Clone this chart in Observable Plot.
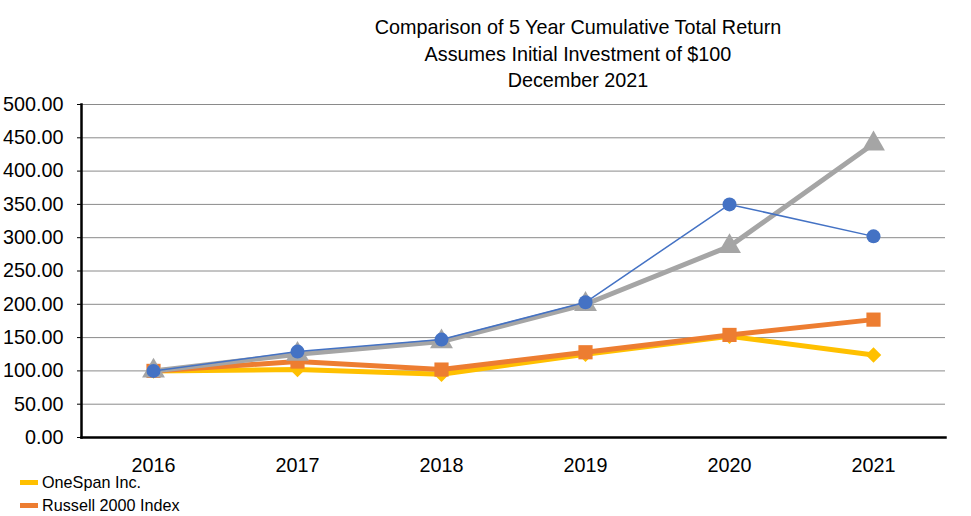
<!DOCTYPE html>
<html>
<head>
<meta charset="utf-8">
<script src="https://cdn.jsdelivr.net/npm/d3@7"></script>
<script src="https://cdn.jsdelivr.net/npm/@observablehq/plot@0.6"></script>
<style>
  html, body { margin: 0; padding: 0; background: #fff; }
  body { width: 971px; height: 516px; position: relative; overflow: hidden; font-family: "Liberation Sans", Arial, sans-serif; }
  #title { position: absolute; left: 328px; width: 500px; top: 14px; text-align: center; font-size: 19.8px; line-height: 26.5px; color: #000; }
  #chart { position: absolute; left: 0; top: 0; }
  #legend { position: absolute; left: 20px; top: 471px; font-size: 16.2px; color: #000; }
  .item { display: flex; align-items: center; height: 23px; }
  .sw { width: 18px; height: 5px; margin-right: 4px; }
</style>
</head>
<body>
<div id="chart"></div>
<div id="title">Comparison of 5 Year Cumulative Total Return<br>Assumes Initial Investment of $100<br>December 2021</div>
<div id="legend"></div>
<script>
const years = ["2016", "2017", "2018", "2019", "2020", "2021"];
const yTicks = [0, 50, 100, 150, 200, 250, 300, 350, 400, 450, 500];

const seriesNames = ["OneSpan Inc.", "Russell 2000 Index", "Series 3", "Series 4"];
const oneSpan   = [100, 102, 95, 125, 152, 124];
const russell   = [100, 114, 102, 128, 154, 177];
const series3   = [100, 125, 144, 200, 287, 441];
const series4   = [100, 129, 147, 203, 350, 302];

const colors  = ["#FFC000", "#ED7D31", "#A5A5A5", "#4472C4"];
const symbols = ["diamond2", "square", "triangle", "circle"];
const widths  = [5, 5, 5, 1.5];
const radii   = [7, 8, 8.5, 7];
const legendShown = [0, 1];

const allValues = [oneSpan, russell, series3, series4];
const rows = [];
allValues.forEach((vals, i) => vals.forEach((v, j) => rows.push({series: seriesNames[i], idx: i, year: years[j], value: v})));

const plotMarks = [
  Plot.ruleY(yTicks.filter(t => t > 0), {stroke: "#8a8a8a", strokeWidth: 1}),
];
allValues.forEach((vals, i) => {
  const data = rows.filter(r => r.idx === i);
  plotMarks.push(Plot.line(data, {x: "year", y: "value", stroke: colors[i], strokeWidth: widths[i]}));
  plotMarks.push(Plot.dot(data, {x: "year", y: "value", fill: colors[i], symbol: () => symbols[i], r: radii[i], stroke: "none"}));
});
plotMarks.push(Plot.frame({anchor: "left", stroke: "#000", strokeWidth: 2.5}));
plotMarks.push(Plot.frame({anchor: "bottom", stroke: "#000", strokeWidth: 2.5}));
plotMarks.push(Plot.axisY({ticks: yTicks, tickFormat: d3.format(".2f"), tickSize: 4, tickPadding: 14, fontSize: 19.8, color: "#000"}));
plotMarks.push(Plot.axisX({tickSize: 0, tickPadding: 20, fontSize: 19.8, color: "#000"}));

const chart = Plot.plot({
  width: 971,
  height: 516,
  marginLeft: 81,
  marginRight: 26,
  marginTop: 104,
  marginBottom: 79,
  style: {fontFamily: "'Liberation Sans', Arial, sans-serif", background: "#fff", color: "#000", overflow: "visible"},
  x: {type: "point", domain: years, padding: 0.5, label: null},
  y: {domain: [0, 500], label: null},
  marks: plotMarks
});
document.getElementById("chart").appendChild(chart);

const legend = document.getElementById("legend");
legendShown.forEach(i => {
  const d = document.createElement("div");
  d.className = "item";
  d.innerHTML = `<span class="sw" style="background:${colors[i]}"></span><span>${seriesNames[i]}</span>`;
  legend.appendChild(d);
});
</script>
</body>
</html>
